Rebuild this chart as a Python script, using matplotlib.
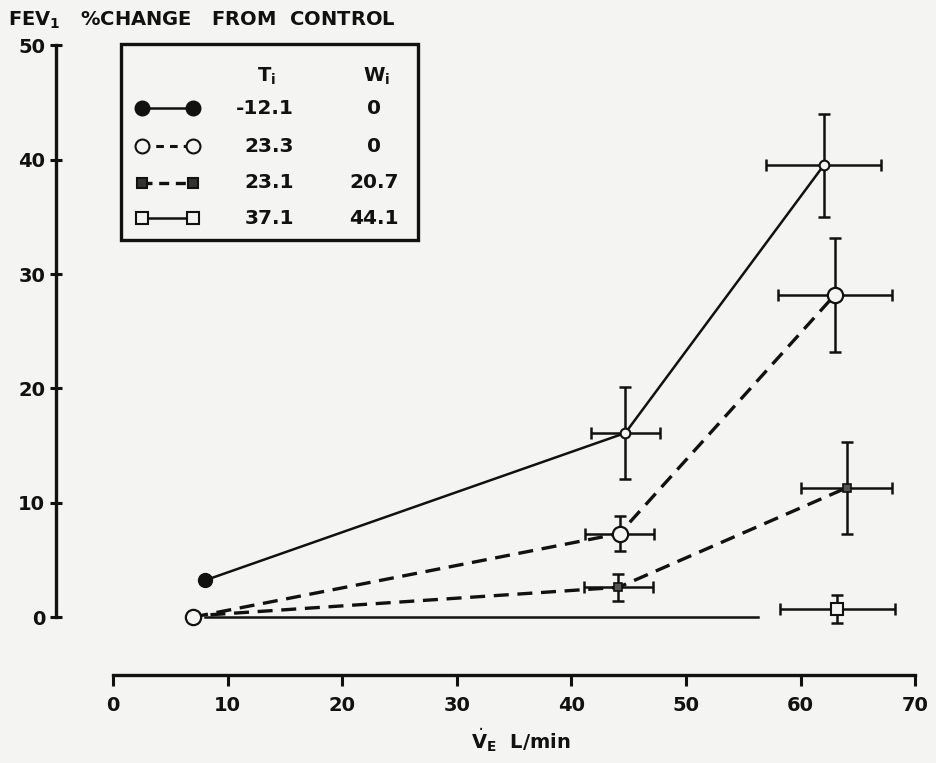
import matplotlib
matplotlib.use('Agg')
import matplotlib.pyplot as plt
from matplotlib.lines import Line2D
from matplotlib.patches import Rectangle

plt.rcParams['font.family'] = ['DejaVu Sans']
plt.rcParams['mathtext.fontset'] = 'dejavusans'

BG = '#f4f4f2'
INK = '#111111'

# data (VE L/min vs FEV1 % change from control)
ve_1 = [8, 44.7, 62.0]
fev_1 = [3.2, 16.1, 39.5]
xerr_1 = [0, 3, 5]
yerr_1 = [0, 4, 4.5]

ve_2 = [7, 44.2, 63.0]
fev_2 = [0, 7.3, 28.2]
xerr_2 = [0, 3, 5]
yerr_2 = [0, 1.5, 5]

ve_3 = [8.5, 44.1, 64.0]
fev_3 = [0.2, 2.6, 11.3]
xerr_3 = [0, 3, 4]
yerr_3 = [0, 1.2, 4]

ve_4_line = [8, 56.3]
fev_4_line = [0, 0]
ve_4 = [63.2]
fev_4 = [0.7]
xerr_4 = [5]
yerr_4 = [1.2]

t_i = ['-12.1', '23.3', '23.1', '37.1']
w_i = ['0', '0', '20.7', '44.1']

x_ticks = [0, 10, 20, 30, 40, 50, 60, 70]
y_ticks = [0, 10, 20, 30, 40, 50]

W, H = 936, 763
fig = plt.figure(figsize=(W / 100, H / 100), dpi=100, facecolor=BG)
ax = fig.add_axes([0.0595, 0.1089, 0.9306, 0.8465], facecolor=BG)
ax.set_xlim(-5, 71)
ax.set_ylim(-5.5, 51)

dash = (0, (4.5, 2.6))
eb = dict(fmt='none', ecolor=INK, elinewidth=1.8, capsize=4.5, capthick=1.8, zorder=2)

# series 1: filled circles, solid
ax.plot(ve_1, fev_1, color=INK, lw=1.8, zorder=3)
ax.errorbar(ve_1[1:], fev_1[1:], xerr=xerr_1[1:], yerr=yerr_1[1:], **eb)
ax.plot(ve_1[:1], fev_1[:1], 'o', ms=10, color=INK, zorder=4)
ax.plot(ve_1[1:], fev_1[1:], 'o', ms=7, mfc=BG, mec=INK, mew=1.5, zorder=4)

# series 2: open circles, dashed
ax.plot(ve_2, fev_2, color=INK, lw=2.4, ls=dash, zorder=3)
ax.errorbar(ve_2[1:], fev_2[1:], xerr=xerr_2[1:], yerr=yerr_2[1:], **eb)
ax.plot(ve_2, fev_2, 'o', ms=11, mfc=BG, mec=INK, mew=1.6, zorder=4)

# series 3: filled squares, dashed
ax.plot(ve_3, fev_3, color=INK, lw=2.4, ls=dash, zorder=3)
ax.errorbar(ve_3[1:], fev_3[1:], xerr=xerr_3[1:], yerr=yerr_3[1:], **eb)
ax.plot(ve_3[1:], fev_3[1:], 's', ms=6, mfc='#555555', mec=INK, mew=1.2, zorder=4)

# series 4: open squares, solid
ax.plot(ve_4_line, fev_4_line, color=INK, lw=1.8, zorder=3)
ax.errorbar(ve_4, fev_4, xerr=xerr_4, yerr=yerr_4, **eb)
ax.plot(ve_4, fev_4, 's', ms=9, mfc=BG, mec=INK, mew=1.5, zorder=4)

# axes styling: detached spines like the original plate
for s in ['top', 'right']:
    ax.spines[s].set_visible(False)
ax.spines['left'].set_position(('data', -5.0))
ax.spines['left'].set_bounds(0, 50)
ax.spines['bottom'].set_position(('data', -5.1))
ax.spines['bottom'].set_bounds(0, 70)
for s in ['left', 'bottom']:
    ax.spines[s].set_linewidth(2.4)
    ax.spines[s].set_color(INK)

ax.set_xticks(x_ticks)
ax.set_yticks(y_ticks)
ax.tick_params(axis='x', direction='out', length=8, width=2.2, pad=7,
               labelsize=14, colors=INK)
ax.tick_params(axis='y', direction='inout', length=9, width=2.2, pad=3,
               labelsize=14, colors=INK)
for lab in ax.get_xticklabels() + ax.get_yticklabels():
    lab.set_fontweight('bold')

ax.set_xlabel(r'$\dot{\mathbf{V}}_{\mathbf{E}}$  L/min', fontsize=14,
              fontweight='bold', color=INK)
ax.xaxis.set_label_coords(0.534, -0.072)
fig.text(8 / W, 1 - 20 / H, r'FEV$_{\mathbf{1}}$   %CHANGE   FROM  CONTROL',
         fontsize=14, fontweight='bold', color=INK, va='center', ha='left')


# legend drawn as a boxed table in figure pixels
def fx(px):
    return px / W


def fy(py):
    return 1 - py / H


fig.patches.append(Rectangle((fx(121), fy(240)), fx(418) - fx(121), fy(44) - fy(240),
                             transform=fig.transFigure, fill=False, lw=2.4,
                             ec=INK, zorder=5))
fig.text(fx(266), fy(76), r'T$_{\mathbf{i}}$', fontsize=14, fontweight='bold',
         ha='center', va='center', color=INK)
fig.text(fx(377), fy(76), r'W$_{\mathbf{i}}$', fontsize=14, fontweight='bold',
         ha='center', va='center', color=INK)

row_y = [108, 146, 183, 218]
styles = [
    dict(ls='-', lw=1.8, marker='o', ms=10, mfc=INK, mew=1.5),
    dict(ls=(0, (2.5, 2.0)), lw=2.2, marker='o', ms=10, mfc=BG, mew=1.5),
    dict(ls=(0, (3.0, 2.0)), lw=2.4, marker='s', ms=7, mfc='#333333', mew=1.5),
    dict(ls='-', lw=1.8, marker='s', ms=8, mfc=BG, mew=1.5),
]
for ry, st, ti, wi in zip(row_y, styles, t_i, w_i):
    fig.add_artist(Line2D([fx(142), fx(193)], [fy(ry), fy(ry)],
                          transform=fig.transFigure, color=INK, mec=INK, **st))
    fig.text(fx(294), fy(ry), ti, fontsize=14.5, fontweight='bold',
             ha='right', va='center', color=INK)
    fig.text(fx(374), fy(ry), wi, fontsize=14.5, fontweight='bold',
             ha='center', va='center', color=INK)

fig.savefig('out.png', dpi=100, facecolor=BG)
